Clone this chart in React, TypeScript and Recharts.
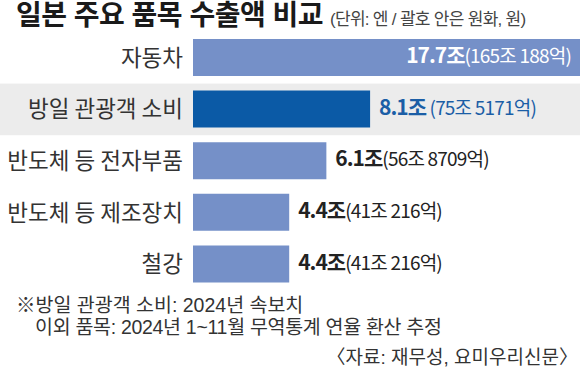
import React from 'react';
import { BarChart, Bar, XAxis, YAxis, Cell, LabelList, ReferenceArea } from 'recharts';

const categories = ['자동차', '방일 관광객 소비', '반도체 등 전자부품', '반도체 등 제조장치', '철강'];
const values = [17.7, 8.1, 6.1, 4.4, 4.4];
const wonLabels = ['165조 188억', '75조 5171억', '56조 8709억', '41조 216억', '41조 216억'];
const highlightIndex = 1;

const data = categories.map((name, i) => ({ name, value: values[i] }));

const FONT = '"Noto Sans CJK KR", "Noto Sans", sans-serif';
// Latin-first stack for the HTML texts: tighter line box, hangul falls back to Noto CJK
const TEXT_FONT = '"Liberation Sans", "Noto Sans CJK KR", sans-serif';
const BAR_COLOR = '#7590c8';
const HIGHLIGHT_COLOR = '#0b5aa6';

function ValueLabel(props: any) {
  const { x, y, width, height, index } = props;
  const inside = index === 0;
  const highlight = index === highlightIndex;
  const color = inside ? '#ffffff' : highlight ? '#1b5ea6' : '#222222';
  const tx = inside ? x + width - 9 : x + width + 9;
  return (
    <text
      x={tx}
      y={y + height / 2}
      dy="0.36em"
      textAnchor={inside ? 'end' : 'start'}
      fill={color}
      fontFamily={FONT}
    >
      <tspan fontSize={21} fontWeight={700} letterSpacing={-1}>{values[index]}조</tspan>
      <tspan fontSize={19} letterSpacing={-0.8}>{highlight ? ' ' : ''}({wonLabels[index]})</tspan>
    </text>
  );
}

function BandShape(props: any) {
  return <rect x={0} y={props.y} width={580} height={props.height} fill="#ececec" />;
}

export default function App() {
  return (
    <div style={{ position: 'absolute', left: 0, top: 0, width: 580, height: 370, background: '#fff', fontFamily: TEXT_FONT, overflow: 'hidden' }}>
      <div style={{ position: 'absolute', left: 16, top: 1, lineHeight: '30px', whiteSpace: 'nowrap', color: '#1a1a1a', display: 'flex', alignItems: 'baseline' }}>
        <span style={{ fontSize: 28, fontWeight: 700, letterSpacing: -0.5 }}>일본 주요 품목 수출액 비교</span>
        <span style={{ fontSize: 17, color: '#444', marginLeft: 7, letterSpacing: -0.7 }}>(단위: 엔 / 괄호 안은 원화, 원)</span>
      </div>
      <div style={{ position: 'absolute', left: 0, top: 0 }}>
        <BarChart
          width={580}
          height={300}
          data={data}
          layout="vertical"
          margin={{ top: 32, right: 0, bottom: 10, left: 0 }}
        >
          <ReferenceArea
            y1={categories[highlightIndex]}
            y2={categories[highlightIndex]}
            ifOverflow="visible"
            shape={BandShape}
          />
          <XAxis type="number" hide domain={[0, 17.7]} />
          <YAxis
            type="category"
            dataKey="name"
            width={193}
            axisLine={false}
            tickLine={false}
            tickSize={0}
            tickMargin={10}
            tick={{ fill: '#333', fontSize: 22.5, fontFamily: FONT }}
          />
          <Bar dataKey="value" barSize={37} isAnimationActive={false}>
            {data.map((d, i) => (
              <Cell key={d.name} fill={i === highlightIndex ? HIGHLIGHT_COLOR : BAR_COLOR} />
            ))}
            <LabelList dataKey="value" content={ValueLabel} />
          </Bar>
        </BarChart>
      </div>
      <div style={{ position: 'absolute', left: 16, top: 294, fontSize: 19.5, lineHeight: '22px', color: '#333', whiteSpace: 'nowrap' }}>
        <div style={{ letterSpacing: 0 }}>※방일 관광객 소비: 2024년 속보치</div>
        <div style={{ paddingLeft: 19, letterSpacing: -0.3 }}>이외 품목: 2024년 1~11월 무역통계 연율 환산 추정</div>
      </div>
      <div style={{ position: 'absolute', right: 2, top: 347, fontSize: 19, lineHeight: '22px', color: '#333', whiteSpace: 'nowrap' }}>
        〈자료: 재무성, 요미우리신문〉
      </div>
    </div>
  );
}
